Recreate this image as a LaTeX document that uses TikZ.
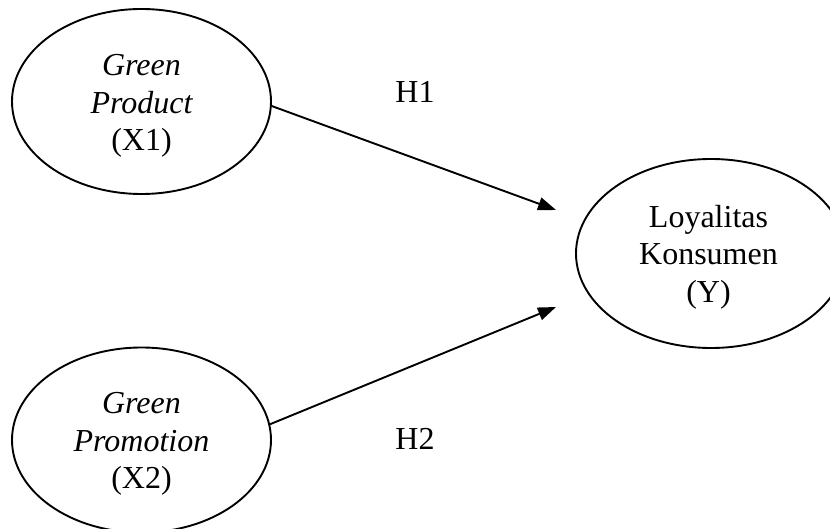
\documentclass[tikz,border=0pt]{standalone}
\usepackage{fontspec}
\setmainfont{Liberation Serif}
\usetikzlibrary{shapes.geometric,arrows.meta}
\begin{document}
\begin{tikzpicture}[x=1pt,y=-1pt,
  latent/.style={draw, ellipse, line width=1.9pt, inner sep=0pt},
  lbl/.style={align=center, font=\fontsize{32}{37.5}\selectfont, inner sep=0pt},
  hyp/.style={font=\fontsize{32}{37.5}\selectfont, inner sep=0pt},
  path1/.style={line width=1.9pt, -{Triangle[length=18pt,width=13pt]}}]
\useasboundingbox (0,0) rectangle (830,529);
\node[latent, minimum width=259pt, minimum height=185pt] (x1) at (141.5,101.5) {};
\node[latent, minimum width=259pt, minimum height=185pt] (x2) at (141.5,440) {};
\node[latent, minimum width=270pt, minimum height=189pt] (y) at (711,253.5) {};
\node[lbl] (x1t) at (141.5,106) {\itshape Green\\\itshape Product\\(X1)};
\node[lbl] (x2t) at (141.5,444) {\itshape Green\\\itshape Promotion\\(X2)};
\node[lbl] (yt) at (708.5,257) {Loyalitas\\Konsumen\\(Y)};
\coordinate (tip1) at (556,210);
\coordinate (tip2) at (556,307);
\draw[path1] (x1.-2) -- (tip1);
\draw[path1] (x2.7) -- (tip2);
\node[hyp] (h1) at (415,92) {H1};
\node[hyp] (h2) at (415,438.5) {H2};
\end{tikzpicture}
\end{document}
